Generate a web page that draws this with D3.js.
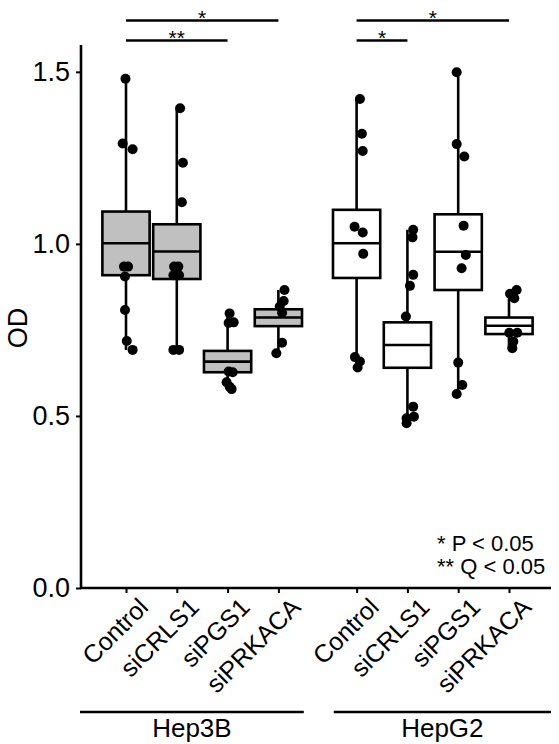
<!DOCTYPE html>
<html>
<head>
<meta charset="utf-8">
<script src="https://cdn.jsdelivr.net/npm/d3@7"></script>
<style>
  html, body { margin: 0; padding: 0; background: #fff; }
  svg { display: block; font-family: "Liberation Sans", Arial, sans-serif; }
</style>
</head>
<body>
<svg id="chart" width="559" height="744"></svg>
<script>
// ---------- data ----------
const groups = ["Hep3B", "HepG2"];
const categories = ["Control", "siCRLS1", "siPGS1", "siPRKACA"];
const yTicks = [0.0, 0.5, 1.0, 1.5];
const yLabel = "OD";

// box statistics, order: Hep3B(Control, siCRLS1, siPGS1, siPRKACA), HepG2(...)
const whiskerLow  = [0.692, 0.692, 0.578, 0.682, 0.641, 0.479, 0.564, 0.697];
const q1          = [0.909, 0.898, 0.627, 0.761, 0.901, 0.640, 0.866, 0.738];
const median      = [1.002, 0.978, 0.658, 0.786, 1.002, 0.706, 0.977, 0.762];
const q3          = [1.094, 1.057, 0.689, 0.810, 1.099, 0.772, 1.086, 0.786];
const whiskerHigh = [1.480, 1.394, 0.798, 0.866, 1.421, 1.041, 1.499, 0.866];

// individual points (OD values) per box
const points = [
  [1.480, 1.292, 1.275, 0.934, 0.934, 0.905, 0.808, 0.718, 0.692],
  [1.394, 1.236, 1.121, 0.934, 0.934, 0.909, 0.909, 0.692, 0.692],
  [0.798, 0.772, 0.770, 0.629, 0.627, 0.598, 0.585, 0.578],
  [0.866, 0.834, 0.818, 0.800, 0.713, 0.682],
  [1.421, 1.320, 1.270, 1.050, 1.033, 0.971, 0.671, 0.658, 0.641],
  [1.041, 1.019, 0.910, 0.878, 0.789, 0.527, 0.498, 0.493, 0.479],
  [1.499, 1.290, 1.254, 1.053, 0.968, 0.929, 0.655, 0.590, 0.564],
  [0.866, 0.855, 0.842, 0.742, 0.742, 0.716, 0.697]
];
// horizontal jitter of each point, in category-step units
const jitter = [
  [-0.01, -0.065, 0.13, -0.04, 0.04, -0.02, -0.02, 0.015, 0.13],
  [0.065, 0.12, 0.10, -0.053, 0.03, -0.067, 0.045, -0.067, 0.045],
  [0.04, 0.12, 0.02, 0.02, 0.10, -0.02, 0.04, 0.08],
  [0.12, 0.104, 0.026, 0.073, 0.073, -0.04],
  [0.065, 0.104, 0.12, -0.04, 0.12, 0.13, -0.033, 0.065, 0.02],
  [0.114, 0.10, 0.114, 0.05, -0.03, 0.114, 0.128, -0.016, -0.016],
  [-0.03, -0.03, 0.12, 0.106, 0.15, 0.067, 0.0, 0.08, -0.03],
  [0.15, 0.02, 0.104, 0.006, 0.163, 0.085, 0.065]
];

// significance brackets
const sigGroup  = [0, 0, 1, 1];
const sigFrom   = [0, 0, 0, 0];
const sigTo     = [3, 2, 3, 1];
const sigLabel  = ["*", "**", "*", "*"];
const sigHeight = [1.649, 1.591, 1.649, 1.591];

const legendLines = ["* P < 0.05", "** Q < 0.05"];

// ---------- layout ----------
const groupGap = 0.54;           // extra category-steps between the two groups
const slotOf = (g, c) => g * (categories.length + groupGap) + c;
const lastSlot = slotOf(groups.length - 1, categories.length - 1);

const svg = d3.select("#chart");
const x = d3.scaleLinear().domain([0, lastSlot]).range([126, 509]);
const y = d3.scaleLinear().domain([0, 1.578]).range([588, 45]);
const step = x(1) - x(0);
const boxW = step * 0.93;
const SW = 2.6;

const boxes = [];
groups.forEach((g, gi) => categories.forEach((c, ci) => {
  const i = gi * categories.length + ci;
  boxes.push({g: gi, c: ci, slot: slotOf(gi, ci), lo: whiskerLow[i], q1: q1[i],
    med: median[i], q3: q3[i], hi: whiskerHigh[i], pts: points[i], jit: jitter[i]});
}));

// axes
const yAxis = d3.axisLeft(y).tickValues(yTicks).tickFormat(d3.format(".1f"))
  .tickSize(5).tickPadding(6);
const yg = svg.append("g").attr("transform", `translate(${81},0)`).call(yAxis);
yg.select(".domain").attr("stroke-width", SW).attr("d", `M0,${y.range()[1]}V${y(0)}`);
yg.selectAll(".tick line").attr("stroke-width", 2);
yg.selectAll(".tick text").attr("font-size", 27).attr("fill", "#000")
  .attr("font-family", "Liberation Sans, Arial, sans-serif");

const xSlots = boxes.map(b => b.slot);
const xAxis = d3.axisBottom(x).tickValues(xSlots).tickFormat("").tickSize(5);
const xg = svg.append("g").attr("transform", `translate(0,${y(0)})`).call(xAxis);
xg.select(".domain").attr("stroke-width", SW).attr("d", `M${80},0H${551}`);
xg.selectAll(".tick line").attr("stroke-width", 2);

// x category labels (rotated)
svg.append("g").selectAll("text").data(boxes).join("text")
  .attr("transform", d => `translate(${x(d.slot) + 11},${y(0) + 8}) rotate(-45)`)
  .attr("text-anchor", "end")
  .attr("dy", "0.72em")
  .attr("font-size", 25)
  .text(d => categories[d.c]);

// y label
svg.append("text")
  .attr("transform", `translate(${27},${328}) rotate(-90)`)
  .attr("text-anchor", "middle")
  .attr("font-size", 27)
  .text(yLabel);

// group lines and labels
groups.forEach((g, gi) => {
  const x0 = gi === 0 ? 80 : x(slotOf(gi, 0)) - step * 0.45;
  const x1 = gi === 0 ? x(slotOf(gi, 3)) + step * 0.5 : 551;
  svg.append("line").attr("x1", x0).attr("x2", x1)
    .attr("y1", 712).attr("y2", 712).attr("stroke", "#000").attr("stroke-width", SW);
  svg.append("text").attr("x", (x0 + x1) / 2)
    .attr("y", 737).attr("text-anchor", "middle").attr("font-size", 26).text(g);
});

// whiskers
const bx = svg.append("g");
bx.selectAll("line.whisker").data(boxes).join("line")
  .attr("class", "whisker")
  .attr("x1", d => x(d.slot)).attr("x2", d => x(d.slot))
  .attr("y1", d => y(d.lo)).attr("y2", d => y(d.hi))
  .attr("stroke", "#000").attr("stroke-width", SW);

// boxes
bx.selectAll("rect").data(boxes).join("rect")
  .attr("x", d => x(d.slot) - boxW / 2)
  .attr("width", boxW)
  .attr("y", d => y(d.q3))
  .attr("height", d => y(d.q1) - y(d.q3))
  .attr("fill", d => d.g === 0 ? "#c0c0c0" : "#ffffff")
  .attr("stroke", "#000").attr("stroke-width", SW);

bx.selectAll("line.median").data(boxes).join("line")
  .attr("class", "median")
  .attr("x1", d => x(d.slot) - boxW / 2).attr("x2", d => x(d.slot) + boxW / 2)
  .attr("y1", d => y(d.med)).attr("y2", d => y(d.med))
  .attr("stroke", "#000").attr("stroke-width", SW);

// points
const pts = [];
boxes.forEach(b => b.pts.forEach((v, k) => pts.push({slot: b.slot + b.jit[k], v})));
svg.append("g").selectAll("circle").data(pts).join("circle")
  .attr("cx", d => x(d.slot)).attr("cy", d => y(d.v)).attr("r", 5).attr("fill", "#000");

// significance brackets
const sg = svg.append("g");
sigLabel.forEach((lab, i) => {
  const xa = x(slotOf(sigGroup[i], sigFrom[i]));
  const xb = x(slotOf(sigGroup[i], sigTo[i]));
  const yy = y(sigHeight[i]);
  sg.append("line").attr("x1", xa).attr("x2", xb).attr("y1", yy).attr("y2", yy)
    .attr("stroke", "#000").attr("stroke-width", SW);
  sg.append("text").attr("x", (xa + xb) / 2).attr("y", yy + 4)
    .attr("text-anchor", "middle").attr("font-size", 21).text(lab);
});

// legend
svg.append("g").selectAll("text").data(legendLines).join("text")
  .attr("x", 437).attr("y", (d, i) => 551 + i * 23)
  .attr("font-size", 22).text(d => d);
</script>
</body>
</html>
